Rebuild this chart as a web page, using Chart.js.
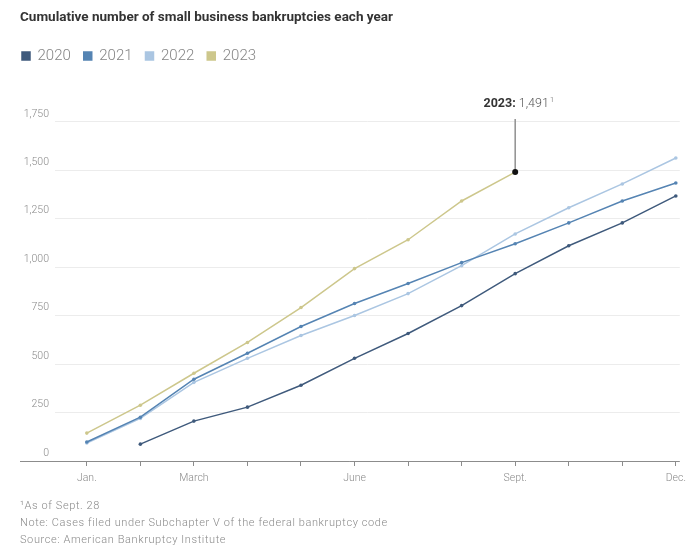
<!DOCTYPE html>
<html>
<head>
<meta charset="utf-8">
<script src="https://cdn.jsdelivr.net/npm/chart.js@4.4.0/dist/chart.umd.min.js"></script>
<style>
    html, body {
        margin: 0;
        padding: 0;
        background: #ffffff;
    }

    #wrap {
        position: relative;
        width: 692px;
        height: 554px;
    }

    #notas {
        position: absolute;
        left: 20px;
        top: 497px;
        font-family: Roboto, sans-serif;
        font-size: 11px;
        font-weight: 300;
        letter-spacing: 0.6px;
        line-height: 17px;
        color: #8a8a8a;
    }
</style>
</head>
<body>
<div id="wrap">
    <canvas id="grafico" width="692" height="554"></canvas>
    <div id="notas">
        <div>¹As of Sept. 28</div>
        <div>Note: Cases filed under Subchapter V of the federal bankruptcy code</div>
        <div>Source: American Bankruptcy Institute</div>
    </div>
</div>

<script>
const meses = ["Jan.", "", "March", "", "", "June", "", "", "Sept.", "", "", "Dec."];
const marcasY = [0, 250, 500, 750, 1000, 1250, 1500, 1750];

const anos = ["2020", "2021", "2022", "2023"];
const cores = ["#3f5a7c", "#5584b3", "#abc6e2", "#cdc78c"];

const valores2020 = [null, 87, 206, 278, 391, 530, 658, 802, 967, 1111, 1229, 1368];
const valores2021 = [98, 226, 422, 556, 694, 813, 916, 1024, 1121, 1229, 1342, 1435];
const valores2022 = [93, 220, 406, 530, 648, 751, 864, 1008, 1172, 1307, 1430, 1564];
const valores2023 = [144, 288, 453, 612, 792, 993, 1142, 1342, 1491];

const series = [valores2020, valores2021, valores2022, valores2023];


function formatarNumero(valor) {
    return Number(valor).toLocaleString("en-US");
}


// linha do eixo x, que começa antes da área do gráfico
const eixoBase = {
    id: "eixoBase",
    afterDraw(chart) {
        const ctx = chart.ctx;
        const y = chart.scales.y.getPixelForValue(0);

        ctx.save();
        ctx.strokeStyle = "#8c8c8c";
        ctx.lineWidth = 1;
        ctx.beginPath();
        ctx.moveTo(20, Math.round(y) + 0.5);
        ctx.lineTo(chart.chartArea.right, Math.round(y) + 0.5);
        ctx.stroke();
        ctx.restore();
    }
};


// rótulo do último ponto de 2023
const rotulo2023 = {
    id: "rotulo2023",
    afterDatasetsDraw(chart) {
        const ctx = chart.ctx;
        const indice = valores2023.length - 1;
        const ponto = chart.getDatasetMeta(3).data[indice];
        const topo = chart.scales.y.getPixelForValue(1765);

        ctx.save();
        ctx.strokeStyle = "#8f8f8f";
        ctx.lineWidth = 1.5;
        ctx.beginPath();
        ctx.moveTo(ponto.x, topo);
        ctx.lineTo(ponto.x, ponto.y);
        ctx.stroke();

        ctx.fillStyle = "#111111";
        ctx.beginPath();
        ctx.arc(ponto.x, ponto.y, 3, 0, Math.PI * 2);
        ctx.fill();

        const negrito = "bold 12.5px Roboto, sans-serif";
        const normal = "300 12.5px Roboto, sans-serif";
        const parte1 = anos[3] + ":";
        const parte2 = " " + formatarNumero(valores2023[indice]);

        ctx.font = negrito;
        const w1 = ctx.measureText(parte1).width;
        ctx.font = normal;
        const w2 = ctx.measureText(parte2).width;

        const x0 = ponto.x - (w1 + w2) / 2 + 1;
        const yTexto = topo - 15;

        ctx.textBaseline = "middle";
        ctx.textAlign = "left";
        ctx.font = negrito;
        ctx.fillStyle = "#333333";
        ctx.fillText(parte1, x0, yTexto);
        ctx.font = normal;
        ctx.fillStyle = "#555555";
        ctx.fillText(parte2, x0 + w1, yTexto);
        ctx.font = "300 7px Roboto, sans-serif";
        ctx.fillText("1", x0 + w1 + w2 + 1, yTexto - 4);
        ctx.restore();
    }
};


document.addEventListener("DOMContentLoaded", () => {
    const ctx = document.getElementById("grafico").getContext("2d");

    new Chart(ctx, {
        type: "line",
        data: {
            labels: meses,
            datasets: anos.map((ano, i) => ({
                label: ano,
                data: series[i].map((v, m) => ({ x: m, y: v })),
                borderColor: cores[i],
                backgroundColor: cores[i],
                borderWidth: 1.5,
                pointRadius: 1.8,
                pointHoverRadius: 1.8,
                pointBorderWidth: 0,
                pointBackgroundColor: cores[i],
                spanGaps: false,
                tension: 0
            }))
        },
        options: {
            responsive: false,
            animation: false,
            layout: {
                padding: {
                    top: 6,
                    left: 20,
                    right: 8,
                    bottom: 63
                }
            },
            plugins: {
                title: {
                    display: true,
                    text: "Cumulative number of small business bankruptcies each year",
                    align: "start",
                    color: "#333333",
                    font: {
                        family: "Roboto, sans-serif",
                        size: 13.5,
                        weight: "bold"
                    },
                    padding: {
                        top: 4,
                        bottom: 20.3
                    }
                },
                legend: {
                    display: true,
                    align: "start",
                    labels: {
                        boxWidth: 8,
                        boxHeight: 8,
                        padding: 2,
                        color: "#858585",
                        font: {
                            family: "Roboto, sans-serif",
                            size: 15,
                            weight: "300"
                        },
                        generateLabels(chart) {
                            const itens = Chart.defaults.plugins.legend.labels.generateLabels(chart);
                            itens.forEach(item => {
                                item.text = item.text + "   ";
                            });
                            return itens;
                        }
                    }
                },
                tooltip: {
                    enabled: false
                }
            },
            scales: {
                x: {
                    type: "linear",
                    min: -0.594,
                    max: 11.074,
                    afterBuildTicks(scale) {
                        scale.ticks = meses.map((_, i) => ({ value: i }));
                    },
                    afterFit(scale) {
                        scale.height = 30;
                    },
                    border: {
                        display: false
                    },
                    grid: {
                        drawOnChartArea: false,
                        drawTicks: true,
                        tickLength: 5,
                        color: "#8c8c8c"
                    },
                    ticks: {
                        padding: 6,
                        autoSkip: false,
                        maxRotation: 0,
                        color: "#8a8a8a",
                        font: {
                            family: "Roboto, sans-serif",
                            size: 10.5,
                            weight: "300"
                        },
                        callback: function (value) {
                            return meses[value];
                        }
                    }
                },
                y: {
                    min: 0,
                    max: 2000,
                    afterBuildTicks(scale) {
                        scale.ticks = marcasY.map(v => ({ value: v }));
                    },
                    afterFit(scale) {
                        scale.width = 35;
                    },
                    border: {
                        display: false
                    },
                    grid: {
                        drawTicks: false,
                        color: "#ececec",
                        lineWidth: 1
                    },
                    ticks: {
                        padding: 6,
                        labelOffset: -8,
                        color: "#8a8a8a",
                        font: {
                            family: "Roboto, sans-serif",
                            size: 10.5,
                            weight: "300"
                        },
                        callback: function (value) {
                            return formatarNumero(value);
                        }
                    }
                }
            }
        },
        plugins: [eixoBase, rotulo2023]
    });
});
</script>
</body>
</html>
